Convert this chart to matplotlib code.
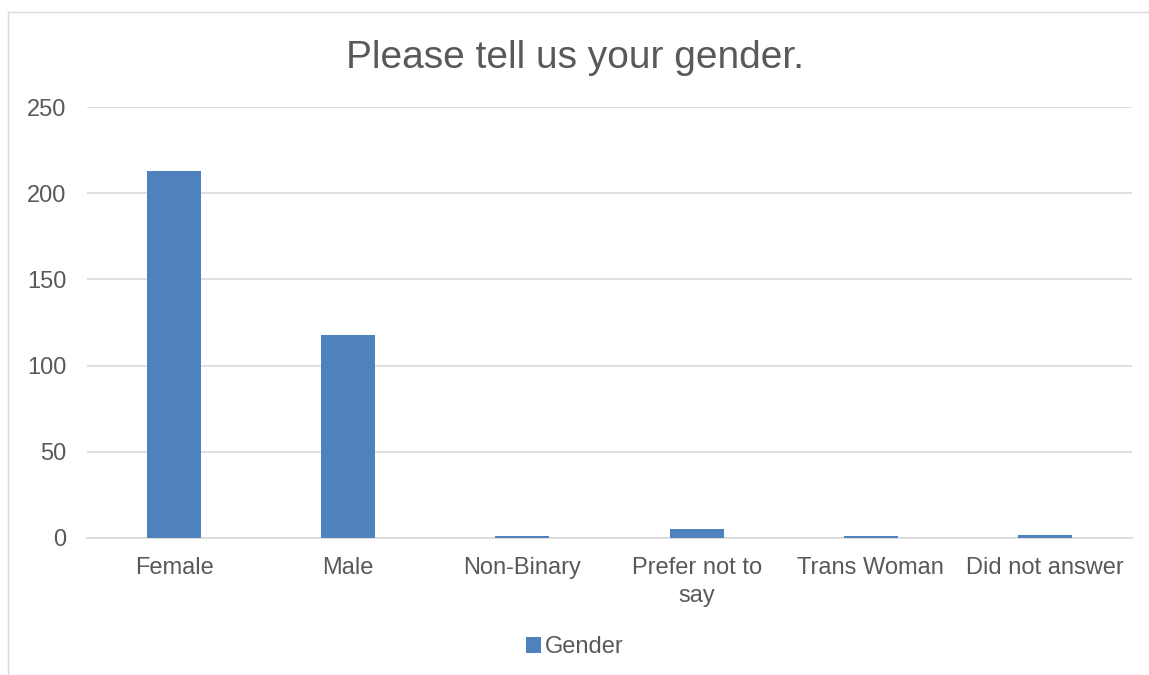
import matplotlib.pyplot as plt
import numpy as np
from matplotlib.lines import Line2D
from matplotlib.patches import Patch

plt.rcParams['font.family'] = ['Liberation Sans', 'DejaVu Sans']

# data
categories = ['Female', 'Male', 'Non-Binary', 'Prefer not to\nsay', 'Trans Woman', 'Did not answer']
counts = [213, 118, 1, 5, 1, 2]
series_name = 'Gender'

bar_color = '#4F81BD'
text_color = '#595959'
grid_color = '#D9D9D9'

fig = plt.figure(figsize=(11.49, 6.75), dpi=100)
ax = fig.add_axes([87 / 1149, 1 - 538 / 675, (1132 - 87) / 1149, (538 - 107) / 675])

x = np.arange(len(categories))
ax.bar(x, counts, width=0.31, color=bar_color, zorder=3)

ax.set_xlim(-0.5, len(categories) - 0.5)
ax.set_ylim(0, 250)
ax.set_yticks(range(0, 251, 50))
ax.set_xticks(x)
ax.set_xticklabels(categories, fontsize=17, color=text_color, linespacing=1.3)
ax.tick_params(axis='y', labelsize=17, labelcolor=text_color, length=0, pad=15)
ax.tick_params(axis='x', length=0, pad=14)
ax.grid(axis='y', color=grid_color, linewidth=1.2, zorder=0)
for s in ['top', 'right', 'left']:
    ax.spines[s].set_visible(False)
ax.spines['bottom'].set_color(grid_color)
ax.spines['bottom'].set_linewidth(1.2)

fig.text(0.5, 1 - 58 / 675, 'Please tell us your gender.', ha='center', va='center',
         fontsize=28, color=text_color)

# legend
handle = Patch(facecolor=bar_color, edgecolor='none')
fig.legend([handle], [series_name], loc='center', bbox_to_anchor=(0.5, 1 - 647 / 675),
           frameon=False, fontsize=17, labelcolor=text_color, handlelength=0.65,
           handleheight=0.65, handletextpad=0.15)

# chart area border (cropped on right and bottom)
fig.add_artist(Line2D([7.5 / 1149, 1], [1 - 11.5 / 675, 1 - 11.5 / 675],
                      transform=fig.transFigure, color='#D9D9D9', linewidth=1))
fig.add_artist(Line2D([7.5 / 1149, 7.5 / 1149], [0, 1 - 11.5 / 675],
                      transform=fig.transFigure, color='#D9D9D9', linewidth=1))

fig.savefig('out.png', dpi=100, facecolor='white')
